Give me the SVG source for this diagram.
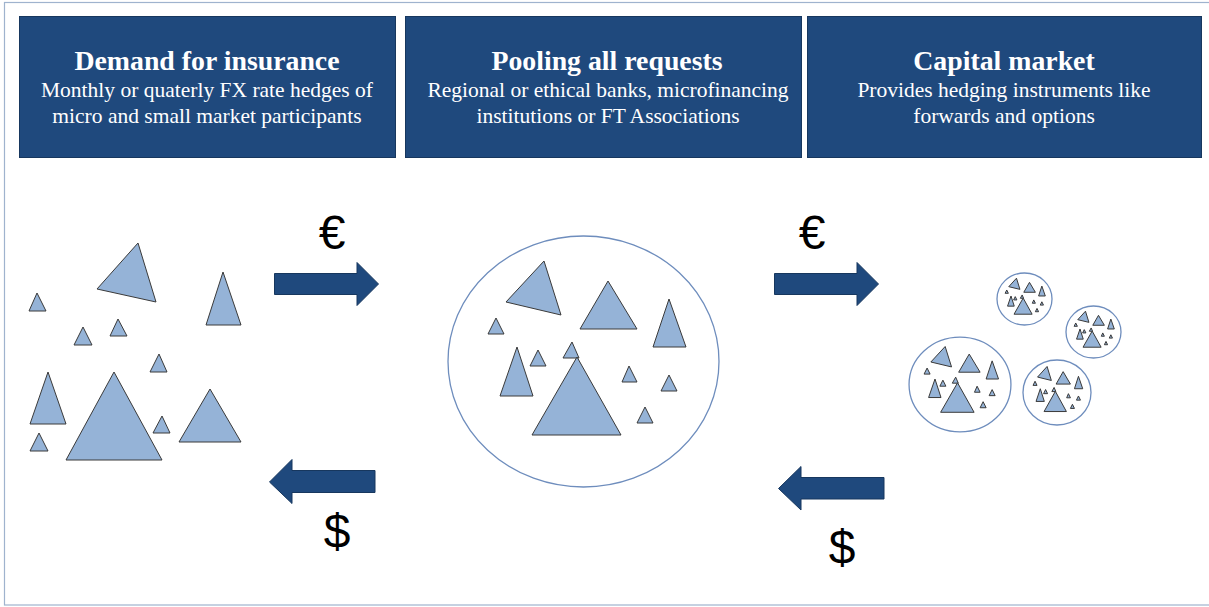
<svg xmlns="http://www.w3.org/2000/svg" xmlns:xlink="http://www.w3.org/1999/xlink" width="1209" height="607" viewBox="0 0 1209 607">
<style>
.hdr{fill:#1F497D;stroke:#17375E;stroke-width:1}
.t{font-family:"Liberation Serif",serif;fill:#fff;text-anchor:middle}
.tt{font-size:27.8px;font-weight:bold}
.ts{font-size:21.5px}
.tri{fill:#95B3D7;stroke:#3a3a3a;stroke-width:1;vector-effect:non-scaling-stroke}
.pool{fill:none;stroke:#6E8DBD;stroke-width:1.3;vector-effect:non-scaling-stroke}
.arr{fill:#1F497D;stroke:#17375E;stroke-width:1}
.cur{font-family:"Liberation Sans",sans-serif;font-size:48px;fill:#000;text-anchor:middle}
</style>
<defs>
<g id="cluster">
<ellipse class="pool" cx="583.5" cy="361.5" rx="135.5" ry="125.5"/>
<polygon class="tri" points="506,302 544,261 561,315"/>
<polygon class="tri" points="608,281 580,329 637,329"/>
<polygon class="tri" points="669,299 653,347 686,347"/>
<polygon class="tri" points="496,318 488,334 504,334"/>
<polygon class="tri" points="517,347 500,396 533,396"/>
<polygon class="tri" points="538,350 530,366 546,366"/>
<polygon class="tri" points="572,342 563,358 579,358"/>
<polygon class="tri" points="577,357 532,435 621,435"/>
<polygon class="tri" points="629,366 622,382 637,382"/>
<polygon class="tri" points="669,375 661,391 677,391"/>
<polygon class="tri" points="645,407 637,423 653,423"/>
</g>
</defs>
<rect x="4.5" y="2.5" width="1210" height="602.5" fill="#fff" stroke="#9FB3CE" stroke-width="1.2"/>

<g id="node-demand">
<rect class="hdr" x="19.5" y="16.5" width="376" height="141"/>
<text class="t tt" x="207" y="70">Demand for insurance</text>
<text class="t ts" x="207" y="97">Monthly or quaterly FX rate hedges of</text>
<text class="t ts" x="207" y="123">micro and small market participants</text>
</g>
<g id="node-pooling">
<rect class="hdr" x="405.5" y="16.5" width="396" height="141"/>
<text class="t tt" x="607" y="70">Pooling all requests</text>
<text class="t ts" x="608" y="97">Regional or ethical banks, microfinancing</text>
<text class="t ts" x="608" y="123">institutions or FT Associations</text>
</g>
<g id="node-capital">
<rect class="hdr" x="807.5" y="16.5" width="394" height="141"/>
<text class="t tt" x="1004" y="70">Capital market</text>
<text class="t ts" x="1004" y="97">Provides hedging instruments like</text>
<text class="t ts" x="1004" y="123">forwards and options</text>
</g>

<g id="node-participants">
<polygon class="tri" points="97,289 138,243 156,302"/>
<polygon class="tri" points="223,272 206,325 241,325"/>
<polygon class="tri" points="37,293 29,311 46,311"/>
<polygon class="tri" points="83,327 74,345 92,345"/>
<polygon class="tri" points="118,319 110,336 127,336"/>
<polygon class="tri" points="159,354 150,372 167,372"/>
<polygon class="tri" points="48,372 30,424 66,424"/>
<polygon class="tri" points="114,372 66,460 162,460"/>
<polygon class="tri" points="39,433 30,451 48,451"/>
<polygon class="tri" points="162,416 153,433 170,433"/>
<polygon class="tri" points="210,389 179,442 241,442"/>
</g>

<g id="node-pool">
<use xlink:href="#cluster"/>
</g>

<g id="node-market">
<use xlink:href="#cluster" transform="translate(960,384.5) scale(0.376,0.378) translate(-583.5,-361.5)"/>
<use xlink:href="#cluster" transform="translate(1024.5,299) scale(0.203,0.207) translate(-583.5,-361.5)"/>
<use xlink:href="#cluster" transform="translate(1093.5,332) scale(0.203,0.207) translate(-583.5,-361.5)"/>
<use xlink:href="#cluster" transform="translate(1057,392.5) scale(0.251,0.259) translate(-583.5,-361.5)"/>
</g>

<g id="connectors">
<polygon class="arr" points="274.5,273.5 357,273.5 357,262.5 378.5,284 357,305.5 357,294.5 274.5,294.5"/>
<polygon class="arr" points="774.5,273.5 857,273.5 857,262.5 878.5,284 857,305.5 857,294.5 774.5,294.5"/>
<polygon class="arr" points="375,470.5 292,470.5 292,459.5 269.5,482 292,503.5 292,492.5 375,492.5"/>
<polygon class="arr" points="884,477.5 801,477.5 801,466.5 778.5,488.5 801,510 801,499 884,499"/>
<text class="cur" x="332" y="249">€</text>
<text class="cur" x="812" y="249">€</text>
<text class="cur" x="337" y="548">$</text>
<text class="cur" x="842" y="564">$</text>
</g>
</svg>
